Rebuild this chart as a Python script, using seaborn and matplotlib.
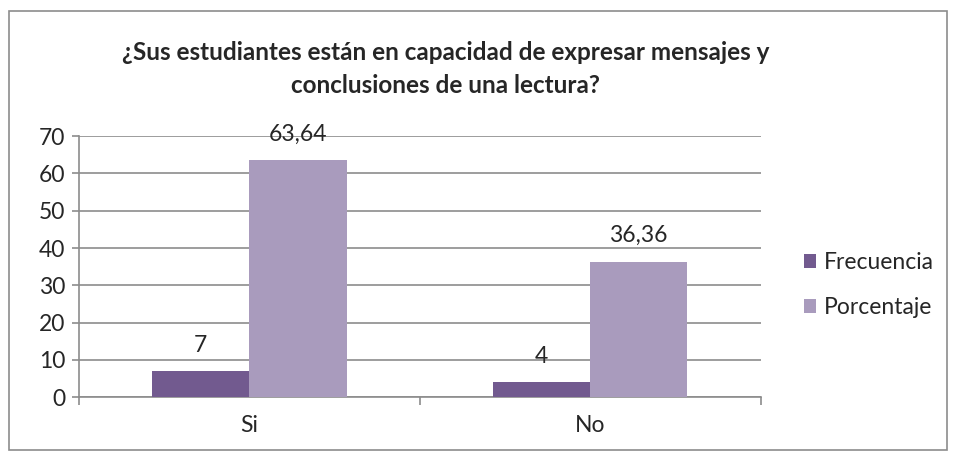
import matplotlib
matplotlib.use("Agg")
import matplotlib.pyplot as plt
import numpy as np
import pandas as pd
import seaborn as sns

categories = ["Si", "No"]
frecuencia = [7, 4]
porcentaje = [63.64, 36.36]
series_names = ["Frecuencia", "Porcentaje"]
title = "¿Sus estudiantes están en capacidad de expresar mensajes y\nconclusiones de una lectura?"

df = pd.DataFrame({
    "Respuesta": categories * 2,
    "Serie": [series_names[0]] * 2 + [series_names[1]] * 2,
    "Valor": frecuencia + porcentaje,
})

sns.set_style("white")
plt.rcParams["font.family"] = ["Lato", "DejaVu Sans"]

fig = plt.figure(figsize=(9.56, 4.57), dpi=100)
ax = fig.add_axes([0.0826, 0.131, 0.713, 0.571])

palette = {"Frecuencia": "#725a8f", "Porcentaje": "#a99bbd"}
sns.barplot(data=df, x="Respuesta", y="Valor", hue="Serie", order=categories,
            hue_order=series_names, palette=palette, width=0.57, gap=0,
            saturation=1, linewidth=0, ax=ax, zorder=3)

for cont in ax.containers:
    ax.bar_label(cont, labels=[f"{v:g}".replace(".", ",") for v in cont.datavalues],
                 fontsize=16.5, padding=11)

ax.set_ylim(0, 70)
ax.set_xlim(-0.5, 1.5)
ax.set_yticks(np.arange(0, 71, 10))
ax.yaxis.grid(True, color="#8c8c8c", linewidth=1.2, zorder=0)
ax.set_axisbelow(True)
ax.set_xlabel("")
ax.set_ylabel("")
ax.tick_params(axis="y", labelsize=16.5, length=5, color="#8c8c8c", width=1.2, pad=5, left=True)
ax.tick_params(axis="x", labelsize=16.5, length=0, pad=13)
ax.set_xticks([-0.5, 0.5, 1.5], minor=True)
ax.tick_params(axis="x", which="minor", length=6, color="#8c8c8c", width=1.2, bottom=True)
for s in ["top", "right"]:
    ax.spines[s].set_visible(False)
for s in ["left", "bottom"]:
    ax.spines[s].set_color("#8c8c8c")
    ax.spines[s].set_linewidth(1.2)

# legend sits to the right of the plot area, a bit below centre
handles, labels = ax.get_legend_handles_labels()
ax.legend(handles, labels, loc="center left", bbox_to_anchor=(1.033, 0.43), frameon=False,
          fontsize=16.5, handlelength=0.55, handleheight=0.55, handletextpad=0.35,
          labelspacing=1.05)

fig.text(0.466, 0.849, title, ha="center", va="center", fontsize=17.5,
         fontweight="bold", linespacing=1.5)

fig.patches.append(plt.Rectangle((0.009, 0.015), 0.982, 0.96, transform=fig.transFigure,
                                 fill=False, edgecolor="#8c8c8c", linewidth=1.2))

fig.savefig("out.png", dpi=100)
